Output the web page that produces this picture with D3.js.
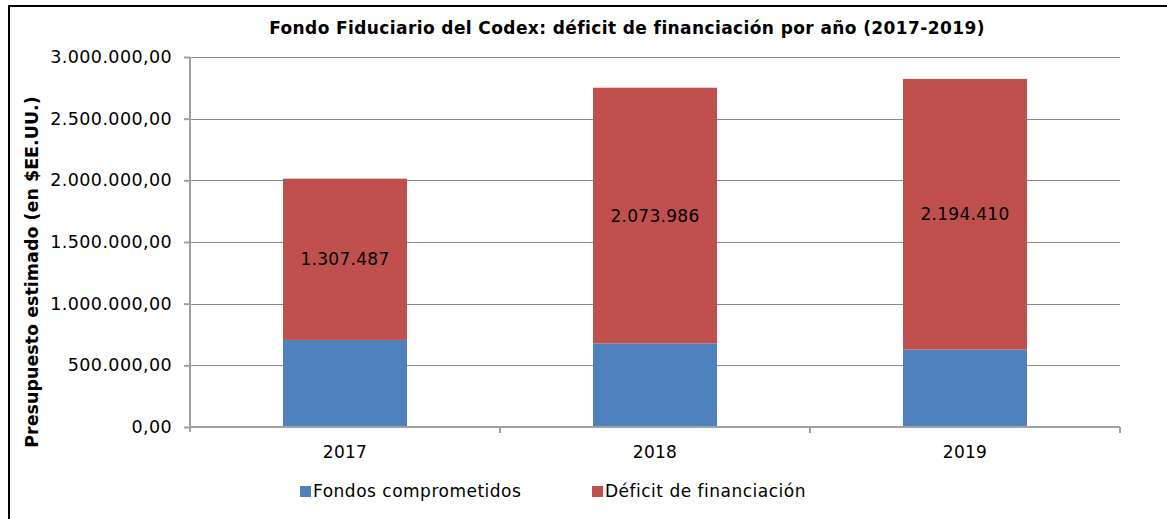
<!DOCTYPE html>
<html>
<head>
<meta charset="utf-8">
<script src="https://cdn.jsdelivr.net/npm/d3@7"></script>
<style>
  body { margin: 0; background: #fff; }
  text { font-family: "DejaVu Sans", Verdana, sans-serif; }
</style>
</head>
<body>
<svg id="chart" width="1167" height="519"></svg>
<script>
// data
const years = ["2017", "2018", "2019"];
const fondos = [706000, 677000, 628000];
const deficit = [1307487, 2073986, 2194410];
const seriesNames = ["Fondos comprometidos", "Déficit de financiación"];
const colors = ["#4F81BD", "#C0504D"];
const yTicks = [0, 500000, 1000000, 1500000, 2000000, 2500000, 3000000];

const svg = d3.select("#chart");

// outer frame (only top/left visible)
svg.append("rect")
  .attr("x", 9).attr("y", 6)
  .attr("width", 1200).attr("height", 560)
  .attr("fill", "none").attr("stroke", "#000").attr("stroke-width", 2);

const margin = { top: 57, left: 190, right: 47, bottom: 92 };
const plotW = 1167 - margin.left - margin.right;
const plotH = 519 - margin.top - margin.bottom;

const g = svg.append("g").attr("transform", `translate(${margin.left},${margin.top})`);

const x = d3.scaleBand().domain(years).range([0, plotW]).padding(0);
const y = d3.scaleLinear().domain([0, 3000000]).range([plotH, 0]);

const fmtTick = (v) => {
  const s = d3.format(",.2f")(v);
  return s.replace(/,/g, "#").replace(".", ",").replace(/#/g, ".");
};
const fmtLbl = (v) => d3.format(",")(v).replace(/,/g, ".");

// gridlines
g.append("g")
  .selectAll("line")
  .data(yTicks.filter((d) => d > 0))
  .join("line")
  .attr("x1", 0).attr("x2", plotW)
  .attr("y1", (d) => Math.round(y(d)) + 0.5).attr("y2", (d) => Math.round(y(d)) + 0.5)
  .attr("stroke", "#8C8C8C").attr("stroke-width", 1);

// stacked bars
const stackData = years.map((yr, i) => ({ year: yr, fondos: fondos[i], deficit: deficit[i] }));
const stack = d3.stack().keys(["fondos", "deficit"])(stackData);
const barW = x.bandwidth() * 0.4;

stack.forEach((layer, li) => {
  g.append("g")
    .selectAll("rect")
    .data(layer)
    .join("rect")
    .attr("x", (d) => x(d.data.year) + (x.bandwidth() - barW) / 2)
    .attr("y", (d) => y(d[1]))
    .attr("width", barW)
    .attr("height", (d) => y(d[0]) - y(d[1]))
    .attr("fill", colors[li]);
});

// data labels on deficit
g.append("g")
  .selectAll("text")
  .data(stack[1])
  .join("text")
  .attr("x", (d) => x(d.data.year) + x.bandwidth() / 2)
  .attr("y", (d) => (y(d[0]) + y(d[1])) / 2)
  .attr("dy", "0.35em")
  .attr("text-anchor", "middle")
  .attr("font-size", 17)
  .attr("letter-spacing", 0.3)
  .attr("fill", "#000")
  .text((d) => fmtLbl(d.data.deficit));

// y axis
const yAxis = g.append("g")
  .call(d3.axisLeft(y).tickValues(yTicks).tickSize(6).tickPadding(12).tickFormat(fmtTick));
yAxis.selectAll("text").attr("font-size", 17.5).attr("letter-spacing", 0.4).attr("fill", "#000")
  .style("font-family", '"DejaVu Sans", Verdana, sans-serif');
yAxis.select(".domain").remove();
yAxis.selectAll("line").attr("stroke", "#A0A0A0").attr("stroke-width", 2);
g.append("line")
  .attr("x1", 0).attr("x2", 0).attr("y1", 0).attr("y2", plotH + 5)
  .attr("stroke", "#A0A0A0").attr("stroke-width", 2);

// x axis
const xAxis = g.append("g")
  .attr("transform", `translate(0,${plotH})`)
  .call(d3.axisBottom(x).tickSize(0).tickPadding(19));
xAxis.select(".domain").remove();
xAxis.selectAll("text").attr("font-size", 17).attr("letter-spacing", 0.3).attr("fill", "#000")
  .style("font-family", '"DejaVu Sans", Verdana, sans-serif');
g.append("line")
  .attr("x1", 0).attr("x2", plotW).attr("y1", plotH).attr("y2", plotH)
  .attr("stroke", "#A0A0A0").attr("stroke-width", 2);
g.append("g")
  .selectAll("line")
  .data(years.slice(1).map((yr) => x(yr)).concat([plotW]))
  .join("line")
  .attr("x1", (d) => d).attr("x2", (d) => d)
  .attr("y1", plotH).attr("y2", plotH + 6)
  .attr("stroke", "#A0A0A0").attr("stroke-width", 2);

// title
svg.append("text")
  .attr("x", 627).attr("y", 34)
  .attr("text-anchor", "middle")
  .attr("font-size", 17)
  .attr("letter-spacing", 0.4)
  .attr("font-weight", "bold")
  .text("Fondo Fiduciario del Codex: déficit de financiación por año (2017-2019)");

// y axis title
svg.append("text")
  .attr("transform", "translate(38,272) rotate(-90)")
  .attr("text-anchor", "middle")
  .attr("font-size", 17.5)
  .attr("font-weight", "bold")
  .text("Presupuesto estimado (en $EE.UU.)");

// legend
const legendX = [300, 592];
const legend = svg.append("g");
seriesNames.forEach((name, i) => {
  legend.append("rect")
    .attr("x", legendX[i]).attr("y", 486)
    .attr("width", 11).attr("height", 11)
    .attr("fill", colors[i]);
  legend.append("text")
    .attr("x", legendX[i] + 13).attr("y", 491.5)
    .attr("dy", "0.35em")
    .attr("font-size", 17)
    .attr("letter-spacing", 0.5)
    .text(name);
});
</script>
</body>
</html>
